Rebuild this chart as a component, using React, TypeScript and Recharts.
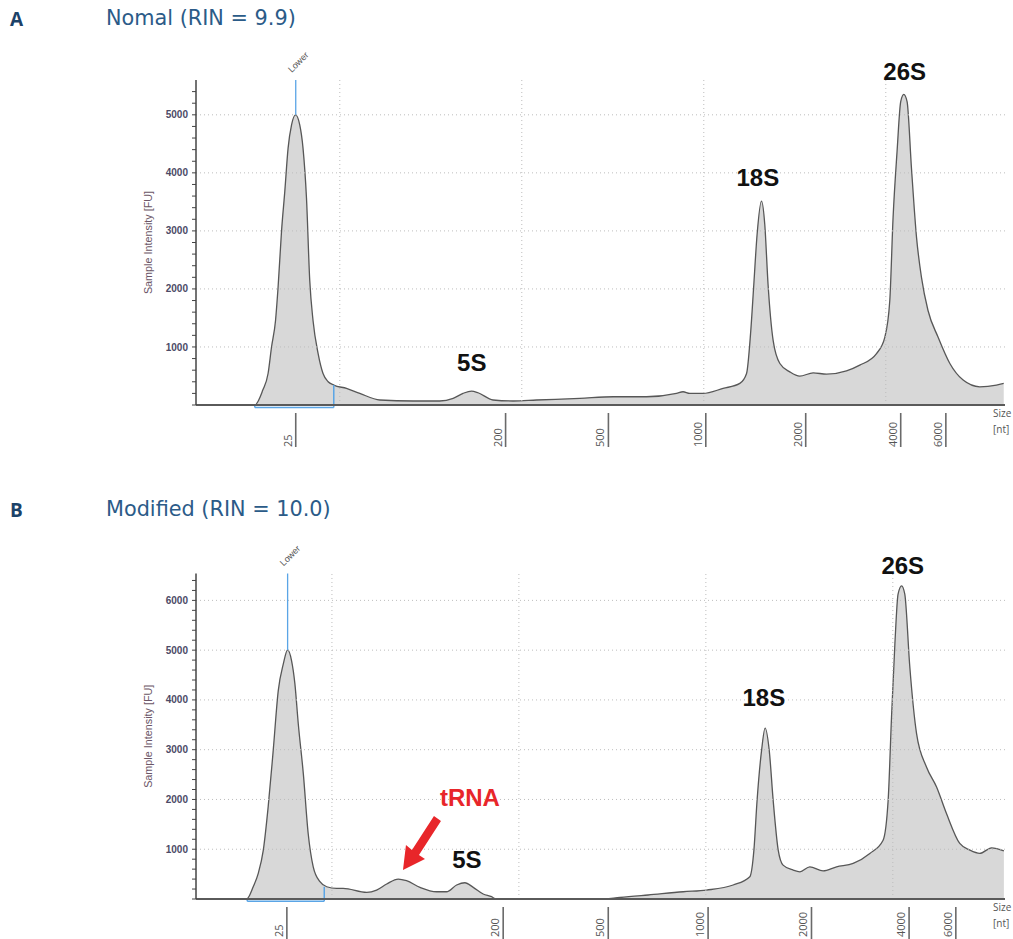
import React from "react";
import { ComposedChart, Area, XAxis, YAxis, ReferenceLine, ReferenceDot } from "recharts";

// Electropherogram A: normal extraction. x = migration time [s], y = fluorescence [FU]
const timeA = [22.1, 25.33, 25.77, 26.06, 26.25, 26.47, 26.61, 26.8, 26.98, 27.16, 27.35, 27.57, 27.8, 27.98, 28.17, 28.35, 28.53, 28.81, 29.08, 29.36, 29.67, 30.37, 31.1, 32.2, 34.03, 35.49, 36.23, 36.77, 37.24, 37.6, 38.42, 39.52, 40.81, 43.19, 45.02, 46.85, 48.5, 48.86, 49.23, 49.96, 51.06, 51.98, 52.35, 52.57, 52.75, 52.93, 53.17, 53.35, 53.53, 53.81, 54.18, 54.73, 55.27, 56.01, 56.74, 57.84, 58.57, 59.49, 59.95, 60.22, 60.4, 60.62, 60.82, 60.99, 61.17, 61.41, 61.69, 61.96, 62.32, 62.87, 63.52, 64.25, 65.16, 66.08, 66.48];
const fuA = [0, 0, 257, 543, 999, 1457, 2028, 3000, 3685, 4427, 4828, 5000, 4828, 4427, 3570, 2143, 1457, 886, 543, 400, 343, 286, 200, 86, 69, 69, 115, 200, 240, 211, 86, 69, 86, 115, 142, 142, 200, 228, 200, 200, 286, 372, 543, 1229, 2086, 2943, 3514, 3114, 2086, 1114, 715, 571, 497, 554, 531, 588, 686, 886, 1171, 1800, 3228, 4371, 5228, 5353, 5228, 4085, 2885, 2199, 1628, 1171, 715, 429, 314, 343, 372];

// Electropherogram B: modified extraction
const timeB = [22.73, 25.44, 25.79, 26.06, 26.33, 26.59, 26.86, 27.13, 27.4, 27.63, 27.84, 28.02, 28.2, 28.47, 28.73, 29.0, 29.36, 29.72, 30.25, 30.6, 31.86, 32.39, 32.93, 33.55, 33.99, 34.71, 35.6, 36.13, 36.67, 37.11, 37.56, 38.09, 38.54, 38.77, 44.22, 45.4, 46.91, 48.79, 50.04, 51.46, 52.35, 52.57, 52.74, 52.98, 53.17, 53.39, 53.6, 53.87, 54.13, 54.67, 55.03, 55.56, 56.27, 56.99, 57.88, 58.77, 59.48, 59.75, 59.93, 60.11, 60.28, 60.47, 60.64, 60.91, 61.27, 61.8, 62.34, 62.87, 63.58, 64.12, 64.65, 65.28, 65.94];
const fuB = [0, 0, 246, 515, 982, 1850, 2986, 4188, 4723, 5004, 4790, 4323, 3521, 2519, 1317, 647, 347, 246, 214, 214, 134, 180, 301, 401, 367, 234, 146, 146, 281, 327, 234, 100, 46, 0, 0, 30, 80, 146, 180, 281, 447, 982, 1984, 2986, 3433, 2986, 1984, 982, 681, 581, 547, 647, 567, 647, 715, 916, 1182, 1984, 3653, 5124, 6126, 6293, 6126, 4655, 3321, 2651, 2250, 1717, 1116, 982, 916, 1028, 968];

// ladder (size marker) positions on the time axis
const ladderSizes = ["25", "200", "500", "1000", "2000", "4000", "6000"];
const ladderTimeA = [27.58, 39.11, 44.76, 50.11, 55.6, 60.82, 63.3];
const ladderTimeB = [27.59, 39.16, 44.78, 50.12, 55.65, 60.87, 63.37];

const gridTimes = [30, 40, 50, 60];
const gridFuA = [1000, 2000, 3000, 4000, 5000];
const gridFuB = [1000, 2000, 3000, 4000, 5000, 6000];
const yTicksA = [0, 200, 400, 600, 800, 1000, 1200, 1400, 1600, 1800, 2000, 2200, 2400, 2600, 2800, 3000, 3200, 3400, 3600, 3800, 4000, 4200, 4400, 4600, 4800, 5000, 5200, 5400];
const yTicksB = [0, 200, 400, 600, 800, 1000, 1200, 1400, 1600, 1800, 2000, 2200, 2400, 2600, 2800, 3000, 3200, 3400, 3600, 3800, 4000, 4200, 4400, 4600, 4800, 5000, 5200, 5400, 5600, 5800, 6000, 6200, 6400];

// peak annotations
const peakNamesA = ["5S", "18S", "26S"];
const peakTimeA = [37.25, 52.97, 61.04];
const peakFuA = [737, 3925, 5742];
const peakNamesB = ["5S", "18S", "26S"];
const peakTimeB = [37.22, 53.1, 60.53];
const peakFuB = [802, 4048, 6693];

const FONT = "'Liberation Sans', Arial, sans-serif";
const LINE_BLUE = "#5aa5e6";
const GRID = "#bdbdbd";

function LadderTick(props: any) {
  const { x, y, index, labels, textOffset } = props;
  const tx = x - 4;
  const ty = y + textOffset;
  return (
    <g>
      <line x1={x} x2={x} y1={y + 8} y2={y + 42} stroke="#6a6a6a" strokeWidth={1.6} />
      <text x={tx} y={ty} transform={`rotate(-90 ${tx} ${ty})`} fontSize={11} fill="#555" fontFamily="'Open Sans', sans-serif">
        {labels[index]}
      </text>
    </g>
  );
}

const yTitle = ({ viewBox }: any) => {
  const cx = viewBox.x + 12;
  const cy = viewBox.y + viewBox.height / 2;
  return (
    <text x={cx} y={cy} transform={`rotate(-90 ${cx} ${cy})`} textAnchor="middle" dominantBaseline="central" fontSize={10.8} fill="#6b5566" fontFamily={FONT}>
      Sample Intensity [FU]
    </text>
  );
};

const peakText = (label: string, color = "#111") => (p: any) => (
  <text x={p.cx} y={p.cy} textAnchor="middle" dominantBaseline="central" fontSize={24} fontWeight="bold" fill={color} fontFamily={FONT}>
    {label}
  </text>
);

const lowerText = (p: any) => {
  const tx = p.cx - 4;
  const ty = p.cy - 7;
  return (
    <text x={tx} y={ty} transform={`rotate(-45 ${tx} ${ty})`} fontSize={9} fill="#555" fontFamily={FONT}>
      Lower
    </text>
  );
};

// red arrow, tip at (cx, cy), pointing down-left
const arrowShape = (p: any) => {
  const pts = [[0, 0], [22, -11], [16, -15], [38, -49], [31, -54], [9, -20], [3, -25]];
  return <polygon points={pts.map(([dx, dy]) => `${p.cx + dx},${p.cy + dy}`).join(" ")} fill="#e8262a" />;
};

interface PanelProps {
  times: number[];
  fu: number[];
  yMax: number;
  yTicks: number[];
  gridFu: number[];
  xDomain: [number, number];
  ladderTimes: number[];
  lowerTime: number;
  lowerFu: number;
  bracket: [number, number, number];
  names: string[];
  peakT: number[];
  peakV: number[];
  height: number;
  marginTop: number;
  marginBottom: number;
  axisHeight: number;
  labelOffset: number;
  children?: React.ReactNode;
}

function Electropherogram(p: PanelProps) {
  const data = p.times.map((t, i) => ({ t, v: p.fu[i] }));
  const [bl, br, bh] = p.bracket;
  const bLow = -45;
  return (
    <ComposedChart width={1013} height={p.height} data={data} margin={{ top: p.marginTop, right: 8, bottom: p.marginBottom, left: 136 }}>
      {p.gridFu.map((g) => (
        <ReferenceLine key={"h" + g} y={g} stroke={GRID} strokeDasharray="1 3" strokeWidth={1} />
      ))}
      {gridTimes.map((g) => (
        <ReferenceLine key={"v" + g} x={g} stroke={GRID} strokeDasharray="1 3" strokeWidth={1} />
      ))}
      <XAxis
        type="number"
        dataKey="t"
        domain={p.xDomain}
        allowDataOverflow
        ticks={p.ladderTimes}
        interval={0}
        height={p.axisHeight}
        tickSize={0}
        tickMargin={0}
        tickLine={false}
        axisLine={{ stroke: "#5a5a5a", strokeWidth: 2 }}
        tick={(tp: any) => <LadderTick {...tp} labels={ladderSizes} textOffset={p.labelOffset} />}
      />
      <YAxis
        type="number"
        domain={[0, p.yMax]}
        allowDataOverflow
        ticks={p.yTicks}
        interval={0}
        width={60}
        tickSize={4}
        tickMargin={4}
        tickLine={{ stroke: "#444" }}
        axisLine={{ stroke: "#444", strokeWidth: 1.5 }}
        tickFormatter={(v: number) => (v > 0 && v % 1000 === 0 ? String(v) : "")}
        tick={{ fontSize: 10, fontWeight: "bold", fill: "#4c4a66", fontFamily: FONT }}
        label={{ content: yTitle }}
      />
      <Area
        type="monotone"
        dataKey="v"
        stroke="#575757"
        strokeWidth={1.3}
        fill="#d8d8d8"
        fillOpacity={1}
        dot={false}
        activeDot={false}
        isAnimationActive={false}
      />
      <ReferenceLine segment={[{ x: p.lowerTime, y: p.lowerFu }, { x: p.lowerTime, y: p.yMax }]} stroke={LINE_BLUE} strokeWidth={1.3} ifOverflow="visible" />
      <ReferenceDot x={p.lowerTime} y={p.yMax} r={0} ifOverflow="visible" shape={lowerText} />
      <ReferenceLine segment={[{ x: bl, y: 0 }, { x: bl, y: bLow }]} stroke={LINE_BLUE} strokeWidth={1.5} ifOverflow="visible" />
      <ReferenceLine segment={[{ x: bl, y: bLow }, { x: br, y: bLow }]} stroke={LINE_BLUE} strokeWidth={1.5} ifOverflow="visible" />
      <ReferenceLine segment={[{ x: br, y: bLow }, { x: br, y: bh }]} stroke={LINE_BLUE} strokeWidth={1.5} ifOverflow="visible" />
      {p.names.map((n, i) => (
        <ReferenceDot key={n} x={p.peakT[i]} y={p.peakV[i]} r={0} ifOverflow="visible" shape={peakText(n)} />
      ))}
      {p.children}
    </ComposedChart>
  );
}

const headStyle: React.CSSProperties = { position: "absolute", left: 10, fontFamily: "'Open Sans', sans-serif", fontWeight: 700, fontSize: 19, color: "#1c4268", lineHeight: "20px" };
const titleStyle: React.CSSProperties = { position: "absolute", left: 106, fontFamily: "'DejaVu Sans', sans-serif", fontWeight: 400, fontSize: 20.8, color: "#2b5b88", lineHeight: "22px" };
const sizeStyle: React.CSSProperties = { position: "absolute", left: 993, fontFamily: "'Open Sans', sans-serif", fontSize: 10, color: "#555", lineHeight: "16px" };

export default function App() {
  return (
    <div style={{ position: "absolute", left: 0, top: 0, width: 1013, height: 939, background: "#fff", overflow: "hidden" }}>
      <div style={{ ...headStyle, top: 9 }}>A</div>
      <div style={{ ...titleStyle, top: 7 }}>Nomal (RIN = 9.9)</div>
      <div style={{ position: "absolute", left: 0, top: 0 }}>
        <Electropherogram
          times={timeA}
          fu={fuA}
          yMax={5600}
          yTicks={yTicksA}
          gridFu={gridFuA}
          xDomain={[22.1, 66.55]}
          ladderTimes={ladderTimeA}
          lowerTime={27.58}
          lowerFu={5000}
          bracket={[25.33, 29.67, 343]}
          names={peakNamesA}
          peakT={peakTimeA}
          peakV={peakFuA}
          height={470}
          marginTop={80}
          marginBottom={25}
          axisHeight={40}
          labelOffset={42}
        />
      </div>
      <div style={{ ...sizeStyle, top: 405 }}>Size<br />[nt]</div>

      <div style={{ ...headStyle, top: 500 }}>B</div>
      <div style={{ ...titleStyle, top: 498 }}>Modified (RIN = 10.0)</div>
      <div style={{ position: "absolute", left: 0, top: 480 }}>
        <Electropherogram
          times={timeB}
          fu={fuB}
          yMax={6540}
          yTicks={yTicksB}
          gridFu={gridFuB}
          xDomain={[22.73, 66.0]}
          ladderTimes={ladderTimeB}
          lowerTime={27.63}
          lowerFu={5004}
          bracket={[25.47, 29.59, 246]}
          names={peakNamesB}
          peakT={peakTimeB}
          peakV={peakFuB}
          height={459}
          marginTop={93.5}
          marginBottom={4}
          axisHeight={36}
          labelOffset={38}
        >
          <ReferenceDot x={33.8} y={581} r={0} ifOverflow="visible" shape={arrowShape} />
          <ReferenceDot x={37.38} y={2044} r={0} ifOverflow="visible" shape={peakText("tRNA", "#e8262a")} />
        </Electropherogram>
      </div>
      <div style={{ ...sizeStyle, top: 899 }}>Size<br />[nt]</div>
    </div>
  );
}
